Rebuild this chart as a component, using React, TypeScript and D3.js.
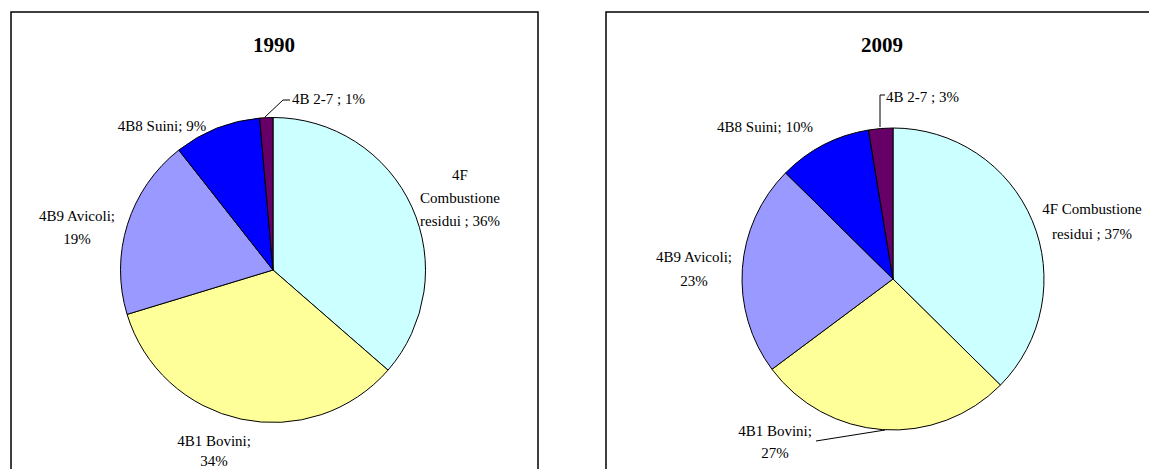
import React from "react";
import * as d3 from "d3";

const categories = [
  "4F Combustione residui",
  "4B1 Bovini",
  "4B9 Avicoli",
  "4B8 Suini",
  "4B 2-7",
];
const values1990 = [36.4, 33.9, 19.1, 9.2, 1.4];
const values2009 = [37.4, 27.4, 22.6, 10.0, 2.6];
const years = ["1990", "2009"];
const colors = ["#CCFFFF", "#FFFF99", "#9999FF", "#0000FF", "#660066"];

const FONT = "'Liberation Serif', 'Times New Roman', 'DejaVu Serif', serif";

type LabelSpec = { lines: string[]; dx: number; dy: number[]; anchor?: string; leader?: [number, number][] };

function labelsFor(year: string, vals: number[]): LabelSpec[] {
  const p = vals.map((v) => Math.round(v) + "%");
  if (year === "1990") {
    return [
      { lines: ["4F", "Combustione", "residui ; " + p[0]], dx: 187, dy: [-95, -72, -49] },
      { lines: ["4B1 Bovini;", p[1]], dx: -59, dy: [171, 191] },
      { lines: ["4B9 Avicoli;", p[2]], dx: -196, dy: [-54, -31] },
      { lines: ["4B8 Suini; " + p[3]], dx: -111, dy: [-144] },
      {
        lines: ["4B 2-7 ; " + p[4]],
        dx: 19,
        dy: [-171],
        anchor: "start",
        leader: [[-8, -153], [10, -170], [17, -170]],
      },
    ];
  }
  return [
    { lines: ["4F Combustione", "residui ; " + p[0]], dx: 199, dy: [-70, -45] },
    {
      lines: ["4B1 Bovini;", p[1]],
      dx: -118,
      dy: [152, 174],
      leader: [[-8, 151], [-77, 162]],
    },
    { lines: ["4B9 Avicoli;", p[2]], dx: -199, dy: [-22, 2] },
    { lines: ["4B8 Suini; " + p[3]], dx: -128, dy: [-152] },
    {
      lines: ["4B 2-7 ; " + p[4]],
      dx: -7,
      dy: [-182],
      anchor: "start",
      leader: [[-13, -152], [-13, -184], [-8, -184]],
    },
  ];
}

function Pie({ year, vals, cx, cy, r, box, titleX }: any) {
  const pie = d3.pie<number>().sort(null).value((d) => d);
  const arc = d3.arc<d3.PieArcDatum<number>>().innerRadius(0).outerRadius(r);
  const arcs = pie(vals);
  const labels = labelsFor(year, vals);
  const line = d3.line();
  return (
    <g>
      <rect x={box[0]} y={box[1]} width={box[2]} height={box[3]} fill="#fff" stroke="#000" strokeWidth={1.5} />
      <text x={titleX} y={45} dy="0.35em" textAnchor="middle" fontFamily={FONT} fontWeight="bold" fontSize={21}>
        {year}
      </text>
      <g transform={`translate(${cx},${cy})`}>
        {arcs.map((a, i) => (
          <path key={i} d={arc(a) || ""} fill={colors[i]} stroke="#000" strokeWidth={1} />
        ))}
        {labels.map((l, i) => (
          <g key={i}>
            {l.leader && <path d={line(l.leader) || ""} fill="none" stroke="#000" strokeWidth={1} />}
            {l.lines.map((t, j) => (
              <text
                key={j}
                x={l.dx}
                y={l.dy[j]}
                dy="0.35em"
                textAnchor={l.anchor || "middle"}
                fontFamily={FONT}
                fontSize={15}
                fill="#000"
              >
                {t}
              </text>
            ))}
          </g>
        ))}
      </g>
    </g>
  );
}

export default function App() {
  return (
    <div style={{ position: "absolute", left: 0, top: 0 }}>
      <svg width={1149} height={469} style={{ display: "block", background: "#fff" }}>
        <rect x={0} y={0} width={1149} height={469} fill="#fff" />
        <Pie year={years[0]} vals={values1990} cx={273} cy={270} r={152.5} box={[11, 12, 527, 480]} titleX={274} />
        <Pie year={years[1]} vals={values2009} cx={893} cy={279} r={151} box={[606, 12, 560, 480]} titleX={882} />
      </svg>
    </div>
  );
}
